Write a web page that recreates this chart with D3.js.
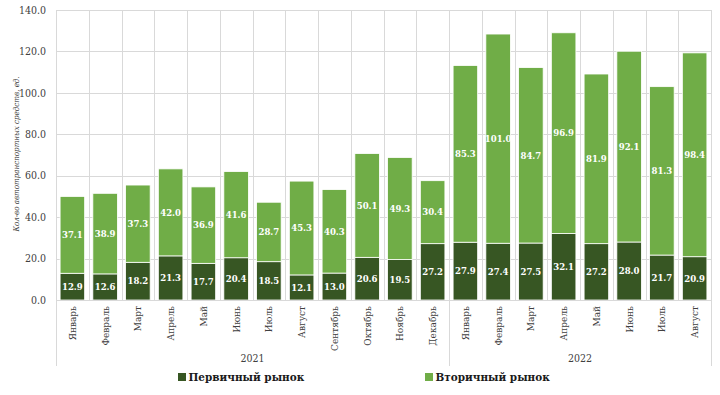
<!DOCTYPE html>
<html>
<head>
<meta charset="utf-8">
<script src="https://cdn.jsdelivr.net/npm/d3@7"></script>
<style>
  body { margin: 0; background: #fff; }
  svg { display: block; font-family: "DejaVu Serif Condensed", "DejaVu Serif", serif; }
</style>
</head>
<body>
<div id="chart"></div>
<script>
var months = ["Январь", "Февраль", "Март", "Апрель", "Май", "Июнь", "Июль", "Август",
    "Сентябрь", "Октябрь", "Ноябрь", "Декабрь",
    "Январь", "Февраль", "Март", "Апрель", "Май", "Июнь", "Июль", "Август"];
var years = ["2021", "2021", "2021", "2021", "2021", "2021", "2021", "2021", "2021", "2021", "2021", "2021",
    "2022", "2022", "2022", "2022", "2022", "2022", "2022", "2022"];
var primary = [12.9, 12.6, 18.2, 21.3, 17.7, 20.4, 18.5, 12.1, 13.0, 20.6, 19.5, 27.2,
    27.9, 27.4, 27.5, 32.1, 27.2, 28.0, 21.7, 20.9];
var secondary = [37.1, 38.9, 37.3, 42.0, 36.9, 41.6, 28.7, 45.3, 40.3, 50.1, 49.3, 30.4,
    85.3, 101.0, 84.7, 96.9, 81.9, 92.1, 81.3, 98.4];
var yTicks = [0, 20, 40, 60, 80, 100, 120, 140];
var seriesNames = ["Первичный рынок", "Вторичный рынок"];
var colors = ["#375623", "#70ad47"];

var W = 720, H = 395;
var mLeft = 56, mRight = 711, mTop = 10, mBottom = 300;

var svg = d3.select("#chart").append("svg")
    .attr("width", W)
    .attr("height", H);

var idx = d3.range(months.length);
var x = d3.scaleBand().domain(idx).range([mLeft, mRight]).paddingInner(0.25).paddingOuter(0.125);
var y = d3.scaleLinear().domain([0, 140]).range([mBottom, mTop]);

// horizontal gridlines
svg.append("g")
    .selectAll("line")
    .data(yTicks)
    .join("line")
    .attr("x1", mLeft).attr("x2", mRight)
    .attr("y1", d => Math.round(y(d)) + 0.5).attr("y2", d => Math.round(y(d)) + 0.5)
    .attr("stroke", "#d9d9d9").attr("stroke-width", 1);

// vertical gridlines between categories
var bounds = d3.range(months.length + 1).map(i => mLeft + (mRight - mLeft) * i / months.length);
svg.append("g")
    .selectAll("line")
    .data(bounds)
    .join("line")
    .attr("x1", d => Math.round(d) + 0.5).attr("x2", d => Math.round(d) + 0.5)
    .attr("y1", mTop).attr("y2", mBottom)
    .attr("stroke", "#d9d9d9").attr("stroke-width", 1);

// y axis labels
svg.append("g")
    .selectAll("text")
    .data(yTicks)
    .join("text")
    .attr("x", 46)
    .attr("y", d => y(d))
    .attr("dy", "0.35em")
    .attr("text-anchor", "end")
    .attr("font-size", 10.5)
    .attr("fill", "#404040")
    .text(d => d.toFixed(1));

svg.append("text")
    .attr("transform", "translate(16,154) rotate(-90)")
    .attr("text-anchor", "middle")
    .attr("dy", "0.35em")
    .attr("font-size", 7.9)
    .attr("font-style", "italic")
    .attr("fill", "#404040")
    .text("Кол-во автотранспортных средств, ед.");

// bars
var stacks = idx.map(i => [
    { s: 0, y0: 0, y1: primary[i], v: primary[i], i: i },
    { s: 1, y0: primary[i], y1: primary[i] + secondary[i], v: secondary[i], i: i }
]);
var segs = stacks.flat();

svg.append("g")
    .selectAll("rect")
    .data(segs)
    .join("rect")
    .attr("x", d => x(d.i))
    .attr("width", x.bandwidth())
    .attr("y", d => y(d.y1))
    .attr("height", d => y(d.y0) - y(d.y1))
    .attr("fill", d => colors[d.s])
    .attr("stroke", "#fff")
    .attr("stroke-width", 0.8);

svg.append("g")
    .selectAll("text")
    .data(segs)
    .join("text")
    .attr("x", d => x(d.i) + x.bandwidth() / 2)
    .attr("y", d => y((d.y0 + d.y1) / 2))
    .attr("dy", "0.35em")
    .attr("text-anchor", "middle")
    .attr("font-size", 9.5)
    .attr("font-weight", "bold")
    .attr("fill", "#fff")
    .text(d => d.v.toFixed(1));

// x axis line
svg.append("line")
    .attr("x1", mLeft).attr("x2", mRight)
    .attr("y1", mBottom + 0.5).attr("y2", mBottom + 0.5)
    .attr("stroke", "#d9d9d9");

// month labels
svg.append("g")
    .selectAll("text")
    .data(idx)
    .join("text")
    .attr("transform", d => "translate(" + (x(d) + x.bandwidth() / 2) + "," + (mBottom + 6) + ") rotate(-90)")
    .attr("text-anchor", "end")
    .attr("dy", "0.35em")
    .attr("font-size", 10)
    .attr("fill", "#404040")
    .text(d => months[d]);

// year groups
var groups = d3.groups(idx, i => years[i]);
var sepIdx = [0];
groups.forEach(g => sepIdx.push(g[1][g[1].length - 1] + 1));
svg.append("g")
    .selectAll("line")
    .data(sepIdx)
    .join("line")
    .attr("x1", d => Math.round(bounds[d]) + 0.5).attr("x2", d => Math.round(bounds[d]) + 0.5)
    .attr("y1", mBottom).attr("y2", 366)
    .attr("stroke", "#d9d9d9");

svg.append("g")
    .selectAll("text")
    .data(groups)
    .join("text")
    .attr("x", g => (bounds[g[1][0]] + bounds[g[1][g[1].length - 1] + 1]) / 2)
    .attr("y", 358)
    .attr("dy", "0.35em")
    .attr("text-anchor", "middle")
    .attr("font-size", 10.5)
    .attr("fill", "#404040")
    .text(g => g[0]);

// legend
var legendX = [178, 425];
var legend = svg.append("g")
    .selectAll("g")
    .data(seriesNames)
    .join("g")
    .attr("transform", (d, i) => "translate(" + legendX[i] + ",377)");
legend.append("rect")
    .attr("x", 0).attr("y", -4)
    .attr("width", 8).attr("height", 8)
    .attr("fill", (d, i) => colors[i]);
legend.append("text")
    .attr("x", 10.5)
    .attr("dy", "0.35em")
    .attr("font-size", 11.6)
    .attr("font-weight", "bold")
    .attr("fill", "#1a1a1a")
    .text(d => d);
</script>
</body>
</html>
